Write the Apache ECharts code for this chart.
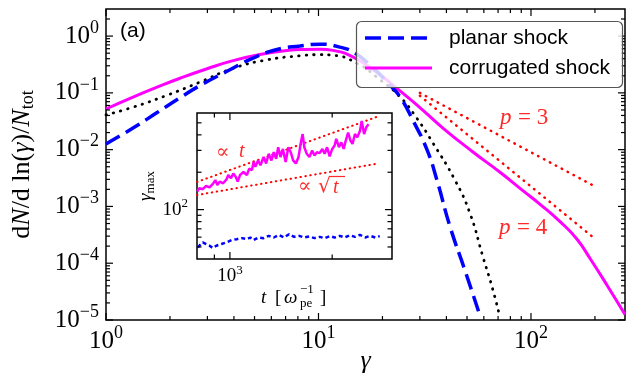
<!DOCTYPE html>
<html><head><meta charset="utf-8">
<script src="https://cdn.jsdelivr.net/npm/echarts@6/dist/echarts.min.js"></script>
<style>html,body{margin:0;padding:0;background:#fff}#c{width:627px;height:376px}</style>
</head><body><div id="c"></div>
<script>
// ---- main panel data (gamma, dN/dln(gamma)/Ntot) ----
const planarGamma = [1, 1.34, 1.74, 2.23, 2.77, 3.71, 4.92, 6.38, 8.18, 10.2, 12.6, 14.9, 18.0, 21.2, 24.2, 27.8, 32.4, 36.1, 41.6, 49, 57.5];
const planarN     = [0.0126, 0.024, 0.045, 0.082, 0.135, 0.24, 0.41, 0.58, 0.67, 0.72, 0.64, 0.50, 0.28, 0.15, 0.085, 0.033, 0.010, 2.9e-3, 4.4e-4, 7.3e-5, 1.2e-5];
const corrGamma = [1, 1.34, 1.74, 2.23, 2.99, 3.96, 5.3, 7.1, 8.5, 10.2, 11.7, 14.5, 18.8, 23.4, 29.1, 38.5, 53.3, 71.5, 91.6, 110, 137, 164, 190, 228, 277];
const corrN     = [0.052, 0.084, 0.126, 0.181, 0.266, 0.369, 0.474, 0.556, 0.58, 0.585, 0.56, 0.43, 0.23, 0.12, 0.061, 0.024, 9.1e-3, 4.0e-3, 1.9e-3, 1.1e-3, 5.4e-4, 2.7e-4, 1.2e-4, 4.1e-5, 1.25e-5];
const mjGamma = [1, 1.34, 1.94, 2.77, 3.96, 5.7, 8.2, 10.2, 11.7, 15.2, 19.5, 24.2, 29, 34.6, 43.9, 51.6, 59.4, 66.2, 71.5];
const mjN     = [0.041, 0.056, 0.091, 0.155, 0.27, 0.38, 0.45, 0.47, 0.46, 0.33, 0.17, 0.085, 0.036, 0.013, 2.9e-3, 7.6e-4, 1.3e-4, 3.4e-5, 1.1e-5];
const p3Gamma = [30, 200];
const p3N     = [0.1, 2.25e-3];
const p4Gamma = [30, 200];
const p4N     = [0.089, 2.7e-4];

// ---- inset data (t, gamma_max) ----
const corrT = [801, 813, 832, 851, 871, 891, 906, 918, 933, 955, 977, 989, 1007, 1023, 1040, 1054, 1071, 1096, 1122, 1140, 1161, 1174, 1188, 1210, 1230, 1257, 1278, 1301, 1325, 1346, 1368, 1387, 1409, 1432, 1459, 1486, 1510, 1535, 1564, 1592, 1618, 1637, 1656, 1683, 1714, 1746, 1774, 1803, 1837, 1871, 1901, 1932, 1966, 2001, 2033, 2056, 2094, 2128, 2162, 2193, 2228, 2264, 2296, 2333, 2371, 2415, 2443, 2483, 2518, 2559];
const corrGmax = [140, 149, 146, 155, 151, 161, 173, 158, 168, 163, 175, 190, 179, 195, 184, 168, 190, 201, 190, 214, 208, 242, 221, 249, 228, 265, 235, 282, 249, 290, 257, 318, 265, 308, 242, 318, 290, 249, 235, 265, 348, 406, 318, 282, 265, 299, 273, 290, 285, 308, 282, 318, 268, 308, 328, 371, 318, 348, 308, 360, 418, 360, 338, 406, 382, 432, 518, 406, 458, 488];
const planarT = [804, 832, 851, 871, 891, 912, 944, 977, 1012, 1047, 1084, 1122, 1148, 1174, 1213, 1257, 1301, 1346, 1393, 1443, 1493, 1545, 1600, 1656, 1714, 1774, 1837, 1901, 1965, 2034, 2105, 2179, 2254, 2333, 2415, 2500, 2588, 2679, 2761];
const planarGmax = [49.7, 54.5, 52.8, 51.2, 49.0, 51.2, 52.8, 54.5, 56.8, 57.8, 58.9, 57.8, 59.6, 56.8, 59.6, 58.9, 61.4, 59.6, 62.5, 59.6, 63.4, 60.3, 61.4, 59.6, 60.7, 58.9, 60.3, 58.9, 61.1, 59.6, 61.4, 59.6, 62.2, 60.3, 62.5, 59.6, 61.4, 59.6, 61.1];
const linT = [800, 2750];
const linG = [167, 567];
const sqrtT = [800, 2750];
const sqrtG = [131, 236];

// ---- ticks ----
const mainXMajor = [1, 10, 100];
const mainXMinor = [2, 3, 4, 5, 6, 7, 8, 9, 20, 30, 40, 50, 60, 70, 80, 90, 200];
const mainYMajor = [1e-5, 1e-4, 1e-3, 1e-2, 1e-1, 1];
const mainYMinor = [2e-5,3e-5,4e-5,5e-5,6e-5,7e-5,8e-5,9e-5, 2e-4,3e-4,4e-4,5e-4,6e-4,7e-4,8e-4,9e-4, 2e-3,3e-3,4e-3,5e-3,6e-3,7e-3,8e-3,9e-3, 0.02,0.03,0.04,0.05,0.06,0.07,0.08,0.09, 0.2,0.3,0.4,0.5,0.6,0.7,0.8,0.9, 2];
const insetXMajor = [1000];
const insetXMinor = [900, 2000];
const insetYMajor = [100];
const insetYMinor = [50, 60, 70, 80, 90, 200, 300, 400, 500];

const legendNames = ['planar shock', 'corrugated shock'];

const zip = (a, b) => a.map((v, i) => [v, b[i]]);
const SERIF = 'Liberation Serif';
const SANS = 'Liberation Sans';
const RED = '#ff2a2a';

function powLabel(big, small, pad) {
  return {
    formatter: function (v) {
      const l = Math.log10(v), e = Math.round(l);
      if (Math.abs(l - e) > 1e-6) return '';
      return '{b|10}{s|' + (e < 0 ? '\u2212' : '') + Math.abs(e) + '}';
    },
    rich: {
      b: {fontFamily: SERIF, fontSize: big, color: '#000', verticalAlign: 'middle'},
      s: {fontFamily: SERIF, fontSize: small, color: '#000', verticalAlign: 'middle', padding: [0, 0, pad, 0]}
    }
  };
}

function tickData(xMaj, xMin, yMaj, yMin, x0, y0) {
  const d = [];
  xMaj.forEach(v => d.push([v, y0, 1, 0]));
  xMin.forEach(v => d.push([v, y0, 0, 0]));
  yMaj.forEach(v => d.push([x0, v, 1, 1]));
  yMin.forEach(v => d.push([x0, v, 0, 1]));
  return d;
}
function tickSeries(xi, yi, data, majLen, minLen, lw) {
  return {
    type: 'custom', xAxisIndex: xi, yAxisIndex: yi, clip: false, silent: true, z: 6,
    data: data, encode: {x: 0, y: 1},
    renderItem: function (params, api) {
      const cs = params.coordSys;
      const len = api.value(2) ? majLen : minLen;
      const p = api.coord([api.value(0), api.value(1)]);
      const st = {stroke: '#000', lineWidth: lw};
      if (api.value(3) === 0) {
        const x = p[0], yb = cs.y + cs.height, yt = cs.y;
        return {type: 'group', children: [
          {type: 'line', shape: {x1: x, y1: yb, x2: x, y2: yb - len}, style: st},
          {type: 'line', shape: {x1: x, y1: yt, x2: x, y2: yt + len}, style: st}
        ]};
      } else {
        const y = p[1], xl = cs.x, xr = cs.x + cs.width;
        return {type: 'group', children: [
          {type: 'line', shape: {x1: xl, y1: y, x2: xl + len, y2: y}, style: st},
          {type: 'line', shape: {x1: xr, y1: y, x2: xr - len, y2: y}, style: st}
        ]};
      }
    }
  };
}

const chart = echarts.init(document.getElementById('c'), null, {renderer: 'canvas'});
const dotted = (c, w, gap) => ({color: c, width: w, type: [0.5, gap], cap: 'round'});
const txt = (text, x, y, font, size, fill, italic) => ({
  type: 'text', x: x, y: y, z: 100,
  style: {text: text, fontFamily: font, fontSize: size, fontStyle: italic ? 'italic' : 'normal', fill: fill, verticalAlign: 'middle', align: 'left'}
});

chart.setOption({
  animation: false,
  backgroundColor: '#fff',
  grid: [
    {left: 106, top: 9, right: 2, bottom: 56, show: true, borderColor: '#000', borderWidth: 1.5, backgroundColor: 'transparent', containLabel: false, outerBoundsMode: 'none'},
    {left: 197, top: 113, width: 195, height: 146, show: true, borderColor: '#000', borderWidth: 1.5, backgroundColor: '#fff', containLabel: false, outerBoundsMode: 'none'}
  ],
  xAxis: [
    {type: 'log', logBase: 10, gridIndex: 0, min: 1, max: 277,
     axisLine: {show: false}, axisTick: {show: false}, splitLine: {show: false},
     axisLabel: Object.assign({margin: 4}, powLabel(25, 18, 16)),
     name: '{i|\u03b3}', nameLocation: 'middle', nameGap: 28, nameMoveOverlap: false,
     nameTextStyle: {rich: {i: {fontFamily: SERIF, fontStyle: 'italic', fontSize: 26, color: '#000'}}}},
    {type: 'log', logBase: 10, gridIndex: 1, min: 800, max: 3000,
     axisLine: {show: false}, axisTick: {show: false}, splitLine: {show: false},
     axisLabel: Object.assign({margin: 5}, powLabel(19, 13, 12))}
  ],
  yAxis: [
    {type: 'log', logBase: 10, gridIndex: 0, min: 1e-5, max: 3,
     axisLine: {show: false}, axisTick: {show: false}, splitLine: {show: false},
     axisLabel: Object.assign({margin: 7}, powLabel(25, 18, 16)),
     name: '{r|d}{i|N}{r|/d ln(}{i|\u03b3}{r|)/}{i|N}{sub|tot}', nameLocation: 'middle', nameGap: 69, nameMoveOverlap: false,
     nameTextStyle: {rich: {
       i: {fontFamily: SERIF, fontStyle: 'italic', fontSize: 26, color: '#000', verticalAlign: 'middle'},
       r: {fontFamily: SERIF, fontSize: 26, color: '#000', verticalAlign: 'middle'},
       sub: {fontFamily: SERIF, fontSize: 18, color: '#000', verticalAlign: 'middle', padding: [11, 0, 0, 0]}
     }}},
    {type: 'log', logBase: 10, gridIndex: 1, min: 40, max: 600,
     axisLine: {show: false}, axisTick: {show: false}, splitLine: {show: false},
     axisLabel: Object.assign({margin: 9}, powLabel(19, 13, 12)),
     name: '{i|\u03b3}{sub|max}', nameLocation: 'middle', nameGap: 40, nameMoveOverlap: false,
     nameTextStyle: {rich: {
       i: {fontFamily: SERIF, fontStyle: 'italic', fontSize: 19, color: '#000', verticalAlign: 'middle'},
       sub: {fontFamily: SERIF, fontSize: 13, color: '#000', verticalAlign: 'middle', padding: [10, 0, 0, 0]}
     }}}
  ],
  series: [
    {name: 'p=3', type: 'line', xAxisIndex: 0, yAxisIndex: 0, data: zip(p3Gamma, p3N), symbol: 'none', lineStyle: dotted('#ff0000', 2.5, 6.2), z: 2},
    {name: 'p=4', type: 'line', xAxisIndex: 0, yAxisIndex: 0, data: zip(p4Gamma, p4N), symbol: 'none', lineStyle: dotted('#ff0000', 2.5, 6.2), z: 2},
    {name: 'Maxwellian', type: 'line', xAxisIndex: 0, yAxisIndex: 0, data: zip(mjGamma, mjN), symbol: 'none', smooth: 0.5, lineStyle: dotted('#000', 2.8, 7), z: 3},
    {name: legendNames[1], type: 'line', xAxisIndex: 0, yAxisIndex: 0, data: zip(corrGamma, corrN), symbol: 'none', smooth: 0.5, lineStyle: {color: '#ff00ff', width: 3}, z: 3},
    {name: legendNames[0], type: 'line', xAxisIndex: 0, yAxisIndex: 0, data: zip(planarGamma, planarN), symbol: 'none', smooth: 0.5, lineStyle: {color: '#0000ff', width: 3.5, type: [16, 7]}, z: 4},
    {name: 'inset t', type: 'line', xAxisIndex: 1, yAxisIndex: 1, data: zip(linT, linG), symbol: 'none', lineStyle: dotted('#ff0000', 2, 4.5), z: 3},
    {name: 'inset sqrt t', type: 'line', xAxisIndex: 1, yAxisIndex: 1, data: zip(sqrtT, sqrtG), symbol: 'none', lineStyle: dotted('#ff0000', 2, 4.5), z: 3},
    {name: 'inset corrugated', type: 'line', xAxisIndex: 1, yAxisIndex: 1, data: zip(corrT, corrGmax), symbol: 'none', lineStyle: {color: '#ff00ff', width: 2.5}, z: 4},
    {name: 'inset planar', type: 'line', xAxisIndex: 1, yAxisIndex: 1, data: zip(planarT, planarGmax), symbol: 'none', lineStyle: {color: '#0000ff', width: 2.5, type: [4, 3]}, z: 4},
    tickSeries(0, 0, tickData(mainXMajor, mainXMinor, mainYMajor, mainYMinor, 1, 1e-5), 7, 4, 1.2),
    tickSeries(1, 1, tickData(insetXMajor, insetXMinor, insetYMajor, insetYMinor, 800, 40), 7, 4.5, 1.2)
  ],
  graphic: [
    // legend frame and entries
    {type: 'rect', z: 99, shape: {x: 356.5, y: 21.5, width: 266, height: 66, r: 5},
     style: {fill: 'rgba(255,255,255,0.8)', stroke: '#555', lineWidth: 1.2}},
    {type: 'line', z: 100, shape: {x1: 365, y1: 38, x2: 432, y2: 38}, style: {stroke: '#0000ff', lineWidth: 3.5, lineDash: [16, 7]}},
    {type: 'line', z: 100, shape: {x1: 365, y1: 68, x2: 432, y2: 68}, style: {stroke: '#ff00ff', lineWidth: 3}},
    txt(legendNames[0], 449, 38, SANS, 21, '#000', false),
    txt(legendNames[1], 449, 68, SANS, 21, '#000', false),
    // panel label
    txt('(a)', 120, 31, SANS, 21, '#000', false),
    // power-law labels
    txt('p', 500, 118, SERIF, 23, RED, true),
    txt('= 3', 518, 118, SERIF, 23, RED, false),
    txt('p', 499, 228, SERIF, 23, RED, true),
    txt('= 4', 517, 228, SERIF, 23, RED, false),
    // inset annotations
    txt('\u221d', 216, 153, 'DejaVu Serif', 20, RED, false),
    txt('t', 239, 152, SERIF, 20, RED, true),
    txt('\u221d', 298, 187, 'DejaVu Serif', 20, RED, false),
    txt('\u221a', 318, 187, 'DejaVu Serif', 20, RED, false),
    {type: 'line', z: 100, shape: {x1: 329, y1: 176.5, x2: 345, y2: 176.5}, style: {stroke: RED, lineWidth: 1.2}},
    txt('t', 333, 188, SERIF, 20, RED, true),
    // inset x-axis title: t [omega_pe^-1]
    txt('t', 261, 298, SERIF, 19, '#000', true),
    txt('[', 275, 298, SERIF, 19, '#000', false),
    txt('\u03c9', 284, 298, SERIF, 19, '#000', true),
    txt('\u22121', 300, 290, SERIF, 13, '#000', false),
    txt('pe', 300, 304, SERIF, 13, '#000', false),
    txt(']', 320, 298, SERIF, 19, '#000', false)
  ]
});
</script>
</body></html>
